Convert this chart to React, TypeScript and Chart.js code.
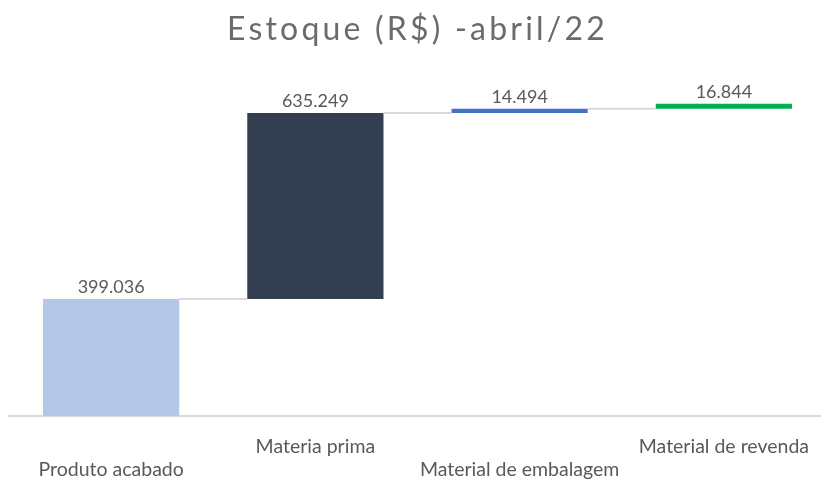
import React, { useEffect, useRef } from "react";
import { Chart, registerables } from "chart.js";

Chart.register(...registerables);

const TITLE = "Estoque (R$) -abril/22";
const categories = ["Produto acabado", "Materia prima", "Material de embalagem", "Material de revenda"];
const values = [399036, 635249, 14494, 16844];
const barColors = ["#B4C7E7", "#333F50", "#4472C4", "#00B050"];
const yMax = 1200000;

function fmt(v: number): string {
  return String(v).replace(/\B(?=(\d{3})+(?!\d))/g, ".");
}

export default function App() {
  const ref = useRef<HTMLCanvasElement | null>(null);

  useEffect(() => {
    document.body.style.margin = "0";
    const canvas = ref.current;
    if (!canvas) return;

    let acc = 0;
    const floating = values.map((v) => {
      const r = [acc, acc + v];
      acc += v;
      return r;
    });
    const labels = categories.map((c, i) => (i % 2 === 0 ? ["", c] : [c, ""]));

    const spacing = {
      id: "titleSpacing",
      beforeDraw(chart: any) {
        chart.ctx.letterSpacing = "3.2px";
      },
      beforeDatasetsDraw(chart: any) {
        chart.ctx.letterSpacing = "0px";
      },
    };

    const waterfall = {
      id: "waterfall",
      afterDatasetsDraw(chart: any) {
        const ctx = chart.ctx;
        const meta = chart.getDatasetMeta(0);
        const y = chart.scales.y;
        ctx.save();
        ctx.strokeStyle = "#D9D9D9";
        ctx.lineWidth = 2;
        for (let i = 0; i < meta.data.length - 1; i++) {
          const a = meta.data[i];
          const b = meta.data[i + 1];
          const yy = y.getPixelForValue(floating[i][1]);
          ctx.beginPath();
          ctx.moveTo(a.x + a.width / 2, yy);
          ctx.lineTo(b.x - b.width / 2, yy);
          ctx.stroke();
        }
        ctx.fillStyle = "#595959";
        ctx.font = "18px Lato";
        ctx.textAlign = "center";
        ctx.textBaseline = "bottom";
        meta.data.forEach((bar: any, i: number) => {
          ctx.fillText(fmt(values[i]), bar.x, Math.min(bar.y, bar.base) - 3);
        });
        ctx.restore();
      },
    };

    const chart = new Chart(canvas, {
      type: "bar",
      data: {
        labels: labels as any,
        datasets: [
          {
            data: floating as any,
            backgroundColor: barColors,
            borderWidth: 0,
            barPercentage: 0.667,
            categoryPercentage: 1,
          },
        ],
      },
      options: {
        responsive: false,
        animation: false,
        layout: { padding: { left: 9, right: 4, top: 0, bottom: 0 } },
        plugins: {
          legend: { display: false },
          tooltip: { enabled: false },
          title: {
            display: true,
            text: TITLE,
            color: "#6B6B6B",
            font: { family: "Lato", size: 32, weight: "normal", lineHeight: 1.2 },
            padding: { top: 10, bottom: 16 },
          },
        },
        scales: {
          x: {
            grid: { display: false, drawTicks: false },
            border: { display: true, color: "#D9D9D9", width: 2 },
            ticks: {
              color: "#595959",
              font: { family: "Lato", size: 19.5, lineHeight: 1.18 },
              maxRotation: 0,
              autoSkip: false,
              padding: 19.5,
              z: 1,
            },
            afterFit: (scale: any) => {
              scale.height = 65;
            },
          },
          y: {
            display: false,
            min: 0,
            max: yMax,
          },
        },
      },
      plugins: [spacing, waterfall],
    });

    return () => chart.destroy();
  }, []);

  return (
    <div style={{ width: 821, height: 481, overflow: "hidden", background: "#fff" }}>
      <canvas ref={ref} width={830} height={481} style={{ display: "block" }} />
    </div>
  );
}
